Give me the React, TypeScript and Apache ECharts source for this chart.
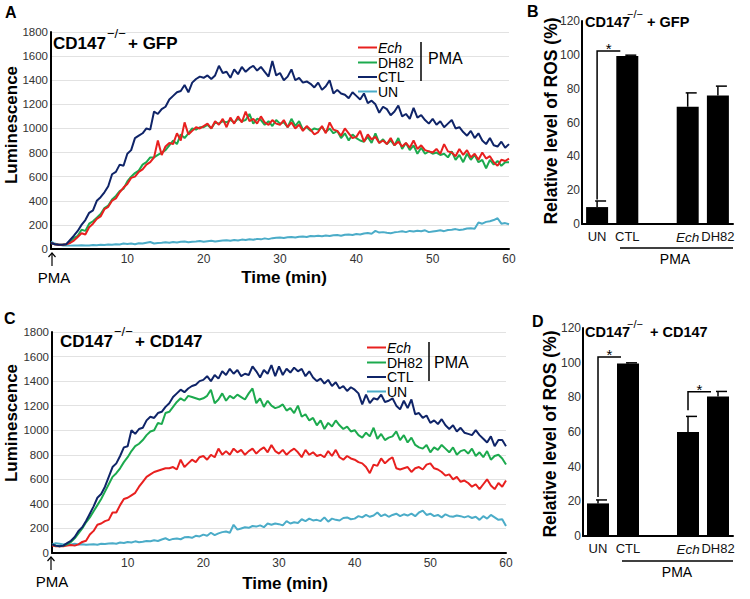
import React, { useEffect, useRef } from "react";
import * as echarts from "echarts";

// time points in minutes (0 .. 60, step 0.5)
const TIME: number[] = Array.from({ length: 121 }, (_, i) => i * 0.5);

// Panel A: CD147-/- + GFP  (luminescence)
const A_CTL = [
  50,40,35,35,40,75,110,150,200,240,
  300,320,400,430,470,520,620,640,700,690,
  790,820,920,940,960,1000,990,1140,1120,1160,
  1180,1240,1270,1300,1310,1360,1300,1380,1410,1430,
  1420,1440,1410,1440,1520,1460,1470,1420,1490,1450,
  1510,1470,1500,1520,1480,1510,1470,1430,1560,1440,
  1460,1400,1430,1490,1400,1420,1380,1390,1370,1340,
  1380,1320,1350,1400,1290,1320,1290,1280,1250,1300,
  1270,1240,1290,1210,1230,1200,1130,1180,1160,1110,
  1140,1190,1100,1120,1080,1170,1090,1110,1070,1040,
  1080,1030,1060,1010,1040,1070,1000,1010,970,940,
  980,920,960,900,870,920,860,850,890,840,
  870,
];
const A_ECH = [
  50,40,35,35,40,50,70,100,130,120,
  180,210,250,270,330,350,400,420,470,510,
  540,590,600,640,660,700,720,760,900,780,
  850,880,870,960,900,1050,950,980,1010,1000,
  1020,1040,1000,1060,1030,1080,1010,1090,1040,1100,
  1050,1140,1060,1080,1040,1100,1050,1030,1070,1040,
  1030,1070,1010,1050,1000,1030,980,1020,990,950,
  970,1020,960,1050,990,980,940,1000,960,920,
  930,980,890,950,910,930,880,900,870,920,
  860,890,850,880,840,900,830,860,820,810,
  800,830,790,870,810,800,770,830,780,820,
  760,790,740,800,750,770,720,690,740,730,
  750,
];
const A_DH82 = [
  50,40,35,35,40,55,90,110,160,150,
  210,230,260,290,340,360,410,440,480,500,
  560,600,630,650,700,720,760,760,780,800,
  820,860,900,870,950,920,960,1000,990,1010,
  1010,1030,1000,1050,1040,1060,1050,1070,1050,1080,
  1060,1070,1120,1040,1080,1070,1030,1060,1020,1070,
  1040,1050,1010,1080,1020,1060,990,1010,980,1000,
  990,1010,970,1000,960,980,920,960,900,950,
  920,900,890,930,880,960,880,910,870,900,
  860,920,830,880,820,860,790,840,790,810,
  790,800,780,790,760,810,740,780,720,790,
  740,780,720,740,670,740,700,730,690,720,
  720,
];
const A_UN = [
  60,45,35,30,30,28,30,30,32,30,
  30,34,32,35,34,38,36,40,38,45,
  42,45,40,48,45,52,58,46,50,52,
  55,52,58,54,60,62,56,60,62,66,
  60,64,68,62,66,70,72,68,74,70,
  78,74,80,76,84,80,88,82,90,94,
  96,92,98,100,96,102,104,100,108,106,
  110,106,112,108,114,116,110,118,120,116,
  124,120,128,132,126,150,136,140,134,130,
  138,142,148,140,150,145,152,148,155,140,
  145,150,155,148,158,160,165,158,162,170,
  172,168,220,210,225,230,240,255,210,215,
  205,
];

// Panel C: CD147-/- + CD147
const C_CTL = [
  70,60,55,60,80,100,130,180,210,260,
  320,380,450,480,540,620,700,730,790,860,
  870,1000,970,1010,1020,1080,1110,1100,1140,1150,
  1190,1220,1270,1300,1330,1310,1340,1360,1370,1400,
  1410,1440,1400,1450,1420,1480,1450,1500,1460,1490,
  1440,1460,1450,1520,1480,1430,1490,1460,1530,1440,
  1520,1450,1500,1470,1510,1480,1500,1440,1480,1430,
  1400,1420,1380,1410,1360,1390,1340,1360,1320,1350,
  1330,1300,1210,1290,1220,1260,1250,1290,1230,1240,
  1260,1200,1170,1240,1180,1250,1130,1140,1100,1120,
  1060,1080,1050,1090,1040,1010,1040,990,1020,980,
  970,960,1000,960,930,900,950,870,920,920,
  870,
];
const C_DH82 = [
  70,60,55,60,70,90,120,160,200,250,
  290,340,390,440,500,560,620,650,690,740,
  780,830,870,890,920,960,990,1000,1060,1050,
  1140,1150,1190,1230,1260,1240,1280,1270,1260,1250,
  1260,1280,1330,1220,1250,1300,1240,1280,1260,1290,
  1270,1250,1300,1340,1220,1260,1190,1240,1200,1180,
  1190,1210,1160,1180,1140,1200,1110,1130,1080,1100,
  1040,1080,1010,1060,1030,1080,1040,1010,1030,990,
  1000,960,940,980,950,1020,930,970,920,940,
  950,990,920,960,900,940,880,860,850,880,
  820,860,840,880,850,820,860,800,830,840,
  810,850,790,820,780,830,760,790,800,770,
  720,
];
const C_ECH = [
  60,55,55,55,60,65,60,70,90,100,
  150,180,230,240,260,270,330,330,390,440,
  450,470,490,540,580,620,640,660,670,680,
  690,690,700,680,760,700,730,760,740,780,
  790,760,800,780,850,800,830,800,850,820,
  840,800,830,850,810,840,860,820,880,830,
  810,840,800,830,850,820,780,840,800,820,
  790,800,780,830,790,840,780,760,790,770,
  760,740,730,700,650,720,710,770,730,760,
  780,690,680,690,700,660,690,700,680,720,
  730,690,680,660,630,640,600,620,580,590,
  570,540,560,520,560,600,550,520,570,540,
  590,
];
const C_UN = [
  70,80,75,70,75,70,75,70,72,68,
  70,72,68,75,74,78,80,76,85,82,
  90,86,95,88,92,98,96,104,98,110,
  120,105,115,118,112,128,130,124,140,135,
  150,140,165,145,160,170,175,165,230,190,
  200,210,205,220,215,225,210,240,230,240,
  235,225,260,240,250,245,275,260,280,265,
  270,260,290,255,280,270,265,285,290,275,
  280,300,290,310,295,305,330,300,315,295,
  310,320,300,315,305,320,300,330,345,310,
  320,300,310,290,315,300,295,305,300,290,
  300,285,295,270,300,280,310,290,270,275,
  220,
];

// Bar panels (relative ROS, %)
const BAR_CATS = ["UN", "CTL", "", "Ech", "DH82"];
const B_MEAN = [10, 99.3, null, 69.3, 76];
const B_ERR_TOP = [13.6, 99.8, null, 77.5, 81.5];
const D_MEAN = [18.8, 99.5, null, 60, 80.5];
const D_ERR_TOP = [20.8, 99.9, null, 69, 83.4];
// significance brackets: [fromCat, fromValue, bracketValue, toCat]
const B_SIG = [[0, 14.5, 102.3, 1]];
const D_SIG = [[0, 22.5, 103.3, 1], [3, 72.5, 83.2, 4]];

const LINE_X_TICKS = [10, 20, 30, 40, 50, 60];

const RED = "#e8201f";
const GREEN = "#1caa4e";
const NAVY = "#0f2468";
const CYAN = "#4bacc8";
const FONT = "'Liberation Sans', Arial, 'DejaVu Sans', sans-serif";

const pair = (arr: number[]) => TIME.map((t, i) => [t, arr[i]]);

function lineSeries(name: string, arr: number[], color: string, idx: number) {
  return {
    type: "line",
    name,
    xAxisIndex: idx,
    yAxisIndex: idx,
    data: pair(arr),
    showSymbol: false,
    symbol: "none",
    lineStyle: { color, width: 2 },
    itemStyle: { color },
    z: 3,
  };
}

function errSeries(means: (number | null)[], tops: (number | null)[], idx: number) {
  const data: number[][] = [];
  means.forEach((m, i) => {
    if (m != null && tops[i] != null) data.push([i, m, tops[i] as number]);
  });
  return {
    type: "custom",
    xAxisIndex: idx,
    yAxisIndex: idx,
    z: 5,
    data,
    renderItem: (params: any, api: any) => {
      const c = api.value(0);
      const p0 = api.coord([c, api.value(1)]);
      const p1 = api.coord([c, api.value(2)]);
      return {
        type: "group",
        children: [
          { type: "line", shape: { x1: p0[0], y1: p0[1], x2: p1[0], y2: p1[1] }, style: { stroke: "#000", lineWidth: 1.5 } },
          { type: "line", shape: { x1: p1[0] - 2, y1: p1[1], x2: p1[0] + 9, y2: p1[1] }, style: { stroke: "#000", lineWidth: 1.5 } },
        ],
      };
    },
  };
}

function sigSeries(items: number[][], idx: number) {
  return {
    type: "custom",
    xAxisIndex: idx,
    yAxisIndex: idx,
    z: 6,
    data: items,
    renderItem: (params: any, api: any) => {
      const a = api.coord([api.value(0), api.value(1)]);
      const b = api.coord([api.value(0), api.value(2)]);
      const c = api.coord([api.value(3), api.value(2)]);
      const endX = c[0] - 11 + 4;
      return {
        type: "group",
        children: [
          {
            type: "polyline",
            shape: { points: [[a[0], a[1]], [b[0], b[1]], [endX, b[1]]] },
            style: { stroke: "#000", lineWidth: 1.5, fill: "none" },
          },
          {
            type: "text",
            style: {
              text: "*",
              x: (b[0] + endX) / 2,
              y: b[1] + 5,
              textAlign: "center",
              textVerticalAlign: "bottom",
              fontSize: 15,
              fontFamily: FONT,
              fill: "#000",
            },
          },
        ],
      };
    },
  };
}

function lineXAxis(gridIndex: number) {
  return {
    type: "value",
    gridIndex,
    min: 0,
    max: 60,
    interval: 10,
    axisLine: { show: true, lineStyle: { color: "#000", width: 2 } },
    axisTick: { show: false },
    splitLine: { show: false },
    axisLabel: {
      color: "#333",
      fontSize: 12,
      fontFamily: FONT,
      margin: 4,
      formatter: (v: number) => (LINE_X_TICKS.indexOf(v) >= 0 ? String(v) : ""),
    },
  };
}
function lineYAxis(gridIndex: number) {
  return {
    type: "value",
    gridIndex,
    min: 0,
    max: 1800,
    interval: 200,
    axisLine: { show: true, lineStyle: { color: "#000", width: 2 } },
    axisTick: { show: false },
    splitLine: { show: true, lineStyle: { color: "#e2e2e2", width: 1 } },
    axisLabel: { color: "#333", fontSize: 11.5, fontFamily: FONT, margin: 3, formatter: (v: number) => String(v) },
  };
}
function barXAxis(gridIndex: number) {
  return {
    type: "category",
    gridIndex,
    data: BAR_CATS,
    axisLine: { show: true, lineStyle: { color: "#000", width: 2 } },
    axisTick: { show: false },
    axisLabel: {
      color: "#111",
      fontSize: 13,
      fontFamily: FONT,
      margin: 6,
      interval: 0,
      formatter: (v: string) => (v === "Ech" ? "{i|Ech}" : v),
      rich: { i: { fontStyle: "italic", fontSize: 13.5, fontFamily: FONT, color: "#111" } },
    },
  };
}
function barYAxis(gridIndex: number) {
  return {
    type: "value",
    gridIndex,
    min: 0,
    max: 120,
    interval: 20,
    axisLine: { show: true, lineStyle: { color: "#000", width: 2 } },
    axisTick: { show: false },
    splitLine: { show: false },
    axisLabel: { color: "#333", fontSize: 12, fontFamily: FONT, margin: 2 },
  };
}

function txt(text: string, x: number, y: number, size: number, opts: any = {}) {
  return {
    type: "text",
    x,
    y,
    rotation: opts.rotation || 0,
    style: {
      text,
      fontSize: size,
      fontFamily: FONT,
      fontWeight: opts.bold ? "bold" : "normal",
      fontStyle: opts.italic ? "italic" : "normal",
      fill: opts.color || "#000",
      textAlign: opts.align || "left",
      textVerticalAlign: "middle",
      lineHeight: opts.lineHeight || undefined,
    },
    z: 10,
  };
}
function ln(x1: number, y1: number, x2: number, y2: number, color = "#000", w = 1.5) {
  return { type: "line", shape: { x1, y1, x2, y2 }, style: { stroke: color, lineWidth: w }, z: 10 };
}
function arrow(x: number, yTop: number, yBot: number) {
  return [
    ln(x, yTop, x, yBot, "#000", 1.2),
    {
      type: "polyline",
      shape: { points: [[x - 3.5, yTop + 4], [x, yTop], [x + 3.5, yTop + 4]] },
      style: { stroke: "#000", lineWidth: 1.2, fill: "none" },
      z: 10,
    },
  ];
}

function legend(x0: number, ys: number[], barX: number, barY: [number, number], pmaX: number, pmaY: number) {
  const items = [
    { n: "Ech", c: RED, it: true },
    { n: "DH82", c: GREEN, it: false },
    { n: "CTL", c: NAVY, it: false },
    { n: "UN", c: CYAN, it: false },
  ];
  const els: any[] = [];
  items.forEach((it, i) => {
    els.push(ln(x0, ys[i], x0 + 19, ys[i], it.c, 2));
    els.push(txt(it.n, x0 + 20, ys[i], 14, { italic: it.it, lineHeight: 14 }));
  });
  els.push(ln(barX, barY[0], barX, barY[1], "#000", 1.5));
  els.push(txt("PMA", pmaX, pmaY, 16));
  return els;
}

export default function App() {
  const ref = useRef<HTMLDivElement>(null);
  useEffect(() => {
    if (!ref.current) return;
    const chart = echarts.init(ref.current, undefined, { renderer: "svg" });
    const graphic: any[] = [
      // panel letters
      txt("A", 5, 12, 16, { bold: true }),
      txt("B", 527, 11, 16, { bold: true }),
      txt("C", 4, 318, 16, { bold: true }),
      txt("D", 532, 321, 16, { bold: true }),
      // panel A titles
      txt("CD147", 53, 43, 17, { bold: true }),
      txt("\u2212/\u2212", 107, 33, 13),
      txt("+ GFP", 128, 43, 17, { bold: true }),
      txt("Luminescence", 11, 125, 17, { bold: true, rotation: Math.PI / 2, align: "center" }),
      txt("Time (min)", 284, 277, 17, { bold: true, align: "center" }),
      ...arrow(52, 253, 266),
      txt("PMA", 54, 277, 15, { align: "center" }),
      ...legend(358, [47.5, 62.5, 77, 91.5], 421, [42, 81], 428, 58),
      // panel C titles
      txt("CD147", 60, 341, 17, { bold: true }),
      txt("\u2212/\u2212", 114, 331, 13),
      txt("+ CD147", 135, 341, 17, { bold: true }),
      txt("Luminescence", 11, 423, 17, { bold: true, rotation: Math.PI / 2, align: "center" }),
      txt("Time (min)", 285, 583, 17, { bold: true, align: "center" }),
      ...arrow(51, 557, 570),
      txt("PMA", 52, 581, 15, { align: "center" }),
      ...legend(367, [347.5, 362.5, 377, 391.5], 429, [342, 381], 434, 362),
      // panel B
      txt("CD147", 585, 22, 14.5, { bold: true }),
      txt("\u2212/\u2212", 627, 14, 11),
      txt("+ GFP", 647, 22, 14.5, { bold: true }),
      txt("Relative level of ROS (%)", 551, 121, 17.5, { bold: true, rotation: Math.PI / 2, align: "center" }),
      ln(620, 248, 733, 248, "#000", 1.5),
      txt("PMA", 675, 259, 14, { align: "center" }),
      // panel D
      txt("CD147", 585, 332, 14.5, { bold: true }),
      txt("\u2212/\u2212", 627, 324, 11),
      txt("+ CD147", 650, 332, 14.5, { bold: true }),
      txt("Relative level of ROS (%)", 550, 434, 17.5, { bold: true, rotation: Math.PI / 2, align: "center" }),
      ln(622, 561, 733, 561, "#000", 1.5),
      txt("PMA", 677, 572, 14, { align: "center" }),
    ];

    chart.setOption({
      animation: false,
      backgroundColor: "#fff",
      textStyle: { fontFamily: FONT },
      grid: [
        { left: 51, top: 32, width: 458, height: 217 },
        { left: 582, top: 21, width: 151, height: 203 },
        { left: 52, top: 332, width: 454, height: 221 },
        { left: 583, top: 328, width: 150, height: 208 },
      ],
      xAxis: [lineXAxis(0), barXAxis(1), lineXAxis(2), barXAxis(3)],
      yAxis: [lineYAxis(0), barYAxis(1), lineYAxis(2), barYAxis(3)],
      series: [
        lineSeries("UN", A_UN, CYAN, 0),
        lineSeries("DH82", A_DH82, GREEN, 0),
        lineSeries("Ech", A_ECH, RED, 0),
        lineSeries("CTL", A_CTL, NAVY, 0),
        {
          type: "bar",
          xAxisIndex: 1,
          yAxisIndex: 1,
          data: B_MEAN.map((v) => (v == null ? "-" : v)),
          barWidth: 22,
          itemStyle: { color: "#000" },
          z: 4,
        },
        errSeries(B_MEAN, B_ERR_TOP, 1),
        sigSeries(B_SIG, 1),
        lineSeries("UN", C_UN, CYAN, 2),
        lineSeries("Ech", C_ECH, RED, 2),
        lineSeries("DH82", C_DH82, GREEN, 2),
        lineSeries("CTL", C_CTL, NAVY, 2),
        {
          type: "bar",
          xAxisIndex: 3,
          yAxisIndex: 3,
          data: D_MEAN.map((v) => (v == null ? "-" : v)),
          barWidth: 22,
          itemStyle: { color: "#000" },
          z: 4,
        },
        errSeries(D_MEAN, D_ERR_TOP, 3),
        sigSeries(D_SIG, 3),
      ],
      graphic,
    });
    return () => chart.dispose();
  }, []);
  return (
    <div
      ref={ref}
      style={{ position: "fixed", left: 0, top: 0, width: 750, height: 599, background: "#fff" }}
    />
  );
}
